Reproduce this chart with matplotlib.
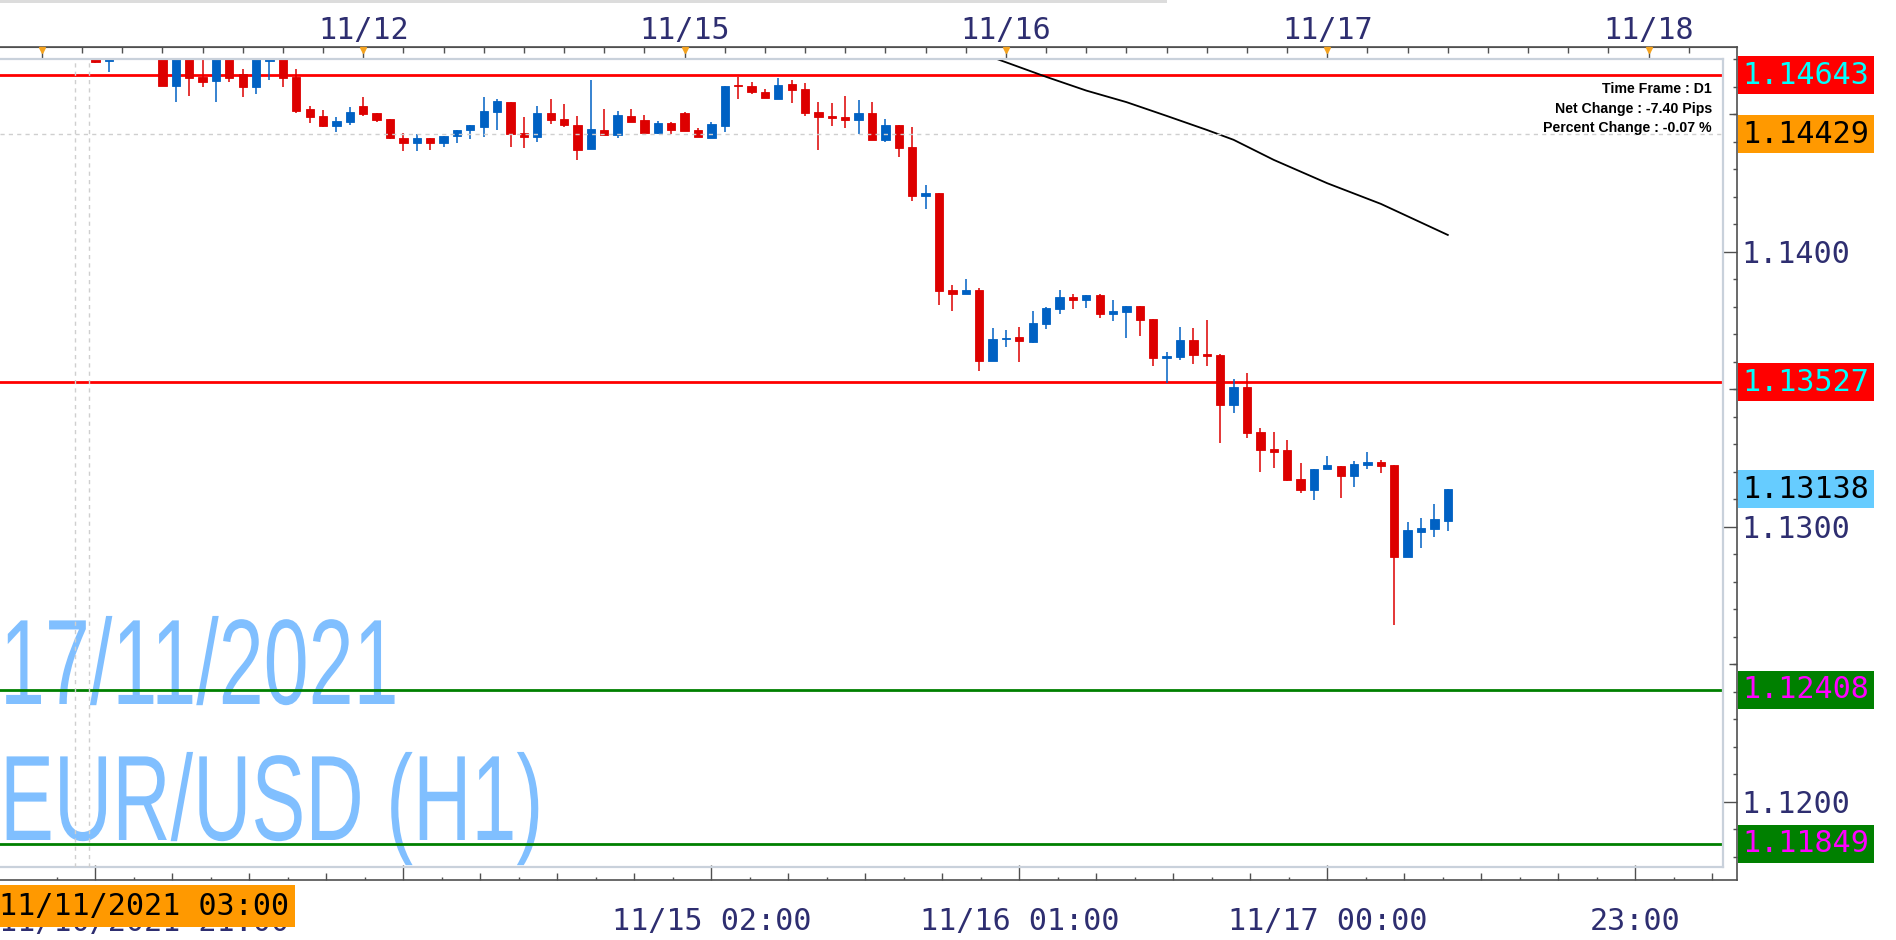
import numpy as np
import matplotlib
matplotlib.use("Agg")
import matplotlib.pyplot as plt
from matplotlib.patches import Rectangle
from matplotlib.patheffects import AbstractPathEffect
from matplotlib.transforms import Affine2D, blended_transform_factory

# ---- data: EUR/USD H1, bar 0 = 11/17 00:00 ----
first_bar = -92
opens = [1.14720, 1.14693, 1.14760, 1.14740, 1.14760, 1.14740, 1.14605, 1.14730, 1.14638, 1.14622,
         1.14730, 1.14646, 1.14601, 1.14695, 1.14730, 1.14638, 1.14520, 1.14494, 1.14459, 1.14474,
         1.14531, 1.14505, 1.14484, 1.14415, 1.14396, 1.14413, 1.14396, 1.14423, 1.14442, 1.14456,
         1.14510, 1.14545, 1.14433, 1.14419, 1.14505, 1.14484, 1.14462, 1.14375, 1.14444, 1.14427,
         1.14495, 1.14480, 1.14433, 1.14469, 1.14505, 1.14444, 1.14416, 1.14459, 1.14606, 1.14604,
         1.14582, 1.14556, 1.14611, 1.14593, 1.14509, 1.14493, 1.14491, 1.14480, 1.14505, 1.14408,
         1.14462, 1.14382, 1.14205, 1.14215, 1.13862, 1.13848, 1.13862, 1.13605, 1.13684, 1.13691,
         1.13673, 1.13739, 1.13794, 1.13836, 1.13827, 1.13844, 1.13776, 1.13783, 1.13803, 1.13756,
         1.13616, 1.13619, 1.13680, 1.13630, 1.13627, 1.13445, 1.13510, 1.13345, 1.13284, 1.13280,
         1.13175, 1.13133, 1.13211, 1.13222, 1.13184, 1.13227, 1.13236, 1.13225, 1.12892, 1.12983,
         1.12994, 1.13023]
highs = [1.14740, 1.14750, 1.14790, 1.14780, 1.14790, 1.14760, 1.14750, 1.14750, 1.14720, 1.14740,
         1.14750, 1.14665, 1.14750, 1.14740, 1.14750, 1.14665, 1.14531, 1.14516, 1.14491, 1.14527,
         1.14564, 1.14505, 1.14484, 1.14433, 1.14429, 1.14413, 1.14422, 1.14444, 1.14462, 1.14564,
         1.14556, 1.14545, 1.14490, 1.14531, 1.14556, 1.14538, 1.14495, 1.14625, 1.14520, 1.14513,
         1.14520, 1.14498, 1.14476, 1.14473, 1.14509, 1.14451, 1.14473, 1.14604, 1.14638, 1.14618,
         1.14593, 1.14633, 1.14625, 1.14615, 1.14545, 1.14542, 1.14567, 1.14553, 1.14545, 1.14484,
         1.14462, 1.14455, 1.14244, 1.14215, 1.13880, 1.13902, 1.13869, 1.13724, 1.13716, 1.13727,
         1.13785, 1.13800, 1.13862, 1.13847, 1.13844, 1.13847, 1.13825, 1.13803, 1.13803, 1.13756,
         1.13636, 1.13727, 1.13724, 1.13753, 1.13630, 1.13540, 1.13561, 1.13360, 1.13345, 1.13316,
         1.13233, 1.13211, 1.13258, 1.13222, 1.13240, 1.13273, 1.13244, 1.13225, 1.13018, 1.13032,
         1.13083, 1.13138]
lows = [1.14686, 1.14656, 1.14720, 1.14715, 1.14720, 1.14603, 1.14547, 1.14568, 1.14601, 1.14547,
        1.14619, 1.14565, 1.14575, 1.14625, 1.14600, 1.14505, 1.14469, 1.14456, 1.14438, 1.14463,
        1.14496, 1.14474, 1.14411, 1.14367, 1.14367, 1.14372, 1.14383, 1.14398, 1.14412, 1.14420,
        1.14442, 1.14383, 1.14379, 1.14401, 1.14467, 1.14456, 1.14336, 1.14375, 1.14423, 1.14416,
        1.14473, 1.14433, 1.14429, 1.14429, 1.14440, 1.14419, 1.14416, 1.14436, 1.14556, 1.14576,
        1.14561, 1.14556, 1.14543, 1.14495, 1.14372, 1.14459, 1.14451, 1.14429, 1.14408, 1.14401,
        1.14347, 1.14187, 1.14158, 1.13808, 1.13786, 1.13848, 1.13568, 1.13605, 1.13655, 1.13601,
        1.13670, 1.13721, 1.13776, 1.13794, 1.13796, 1.13761, 1.13750, 1.13689, 1.13696, 1.13587,
        1.13523, 1.13608, 1.13594, 1.13587, 1.13307, 1.13416, 1.13325, 1.13200, 1.13215, 1.13167,
        1.13125, 1.13097, 1.13211, 1.13107, 1.13147, 1.13212, 1.13198, 1.12645, 1.12892, 1.12925,
        1.12965, 1.12986]
closes = [1.14692, 1.14730, 1.14740, 1.14760, 1.14750, 1.14605, 1.14730, 1.14634, 1.14619, 1.14730,
          1.14634, 1.14601, 1.14730, 1.14720, 1.14634, 1.14514, 1.14492, 1.14459, 1.14476, 1.14509,
          1.14502, 1.14481, 1.14416, 1.14398, 1.14413, 1.14396, 1.14422, 1.14444, 1.14462, 1.14513,
          1.14549, 1.14430, 1.14419, 1.14505, 1.14480, 1.14463, 1.14372, 1.14447, 1.14427, 1.14498,
          1.14473, 1.14433, 1.14469, 1.14444, 1.14440, 1.14419, 1.14465, 1.14604, 1.14602, 1.14583,
          1.14561, 1.14607, 1.14590, 1.14505, 1.14491, 1.14489, 1.14480, 1.14505, 1.14408, 1.14462,
          1.14379, 1.14205, 1.14215, 1.13859, 1.13848, 1.13862, 1.13605, 1.13684, 1.13688, 1.13678,
          1.13742, 1.13796, 1.13836, 1.13827, 1.13844, 1.13776, 1.13785, 1.13803, 1.13754, 1.13616,
          1.13622, 1.13680, 1.13627, 1.13623, 1.13445, 1.13510, 1.13343, 1.13280, 1.13274, 1.13171,
          1.13133, 1.13211, 1.13225, 1.13184, 1.13229, 1.13236, 1.13223, 1.12892, 1.12989, 1.12996,
          1.13029, 1.13138]

# moving average line
ma_bars = [-26, -24, -21, -18, -15, -12, -9, -7, -4, 0, 4, 9]
ma_vals = [1.14725, 1.14690, 1.14637, 1.14587, 1.14545, 1.14495, 1.14444, 1.14408, 1.14335, 1.14250, 1.14175, 1.14062]

red_levels = [1.14643, 1.13527]
green_levels = [1.12408, 1.11849]
cross_price = 1.14429
cross_bar = -93

# price tags on the right axis
tag_prices = [1.14643, 1.14429, 1.13527, 1.13138, 1.12408, 1.11849]
tag_fg = ["#00ffff", "black", "#00ffff", "black", "#ff00ff", "#ff00ff"]
tag_bg = ["#ff0000", "#ff9900", "#ff0000", "#66ccff", "#008000", "#008000"]

y_major = [1.12, 1.13, 1.14]
y_major_labels = ["1.1200", "1.1300", "1.1400"]

day_bars = [-96, -72, -48, -24, 0, 24]
day_labels = ["", "11/12", "11/15", "11/16", "11/17", "11/18"]
time_bars = [-92, -69, -46, -23, 0, 23]
time_labels = ["", "", "11/15 02:00", "11/16 01:00", "11/17 00:00", "23:00"]

info_lines = ["Time Frame : D1", "Net Change : -7.40 Pips", "Percent Change : -0.07 %"]

# ---- layout (pixels of the 1896x940 picture) ----
W, H = 1896, 940
BAR0_PX, BAR_PX = 1327.3, 13.39
P0, P0_PX, PX_PER_UNIT = 1.14, 252.0, 27500.0
NAVY = "#2e2e70"
DARK = "#505050"
MONO = 21.7


def bar_at(x):
    return (x - BAR0_PX) / BAR_PX


def price_at(y):
    return P0 + (P0_PX - y) / PX_PER_UNIT


def rect(x0, y0, x1, y1):
    return [x0 / W, 1 - y1 / H, (x1 - x0) / W, (y1 - y0) / H]


class Squeeze(AbstractPathEffect):
    # narrow the glyphs horizontally, like the condensed chart watermark
    def __init__(self, sx, x0=0.0):
        super().__init__((0, 0))
        self.sx = sx
        self.x0 = x0

    def draw_path(self, renderer, gc, tpath, affine, rgbFace=None):
        sq = Affine2D().translate(-self.x0, 0).scale(self.sx, 1).translate(self.x0, 0)
        renderer.draw_path(gc, tpath, affine + sq, rgbFace)


plt.rcParams["font.family"] = ["DejaVu Sans Mono", "DejaVu Sans"]

fig = plt.figure(figsize=(W / 100, H / 100), dpi=100)
fig.add_artist(Rectangle((0, 1 - 3 / H), 1167 / W, 3 / H, transform=fig.transFigure,
                         color="#dcdcdc", lw=0))

# outer frame: the dark axes with ticks and labels
frame = fig.add_axes(rect(0, 46.7, 1737, 880))
frame.spines["left"].set_visible(False)
for s in ["top", "right", "bottom"]:
    frame.spines[s].set_color(DARK)
    frame.spines[s].set_linewidth(1.2)

frame.set_xticks(time_bars, labels=time_labels)
frame.set_xticks(np.arange(-92, 31, 23 / 4), minor=True)
frame.tick_params(axis="x", which="major", direction="in", length=10.8, width=1, color=DARK,
                  labelcolor=NAVY, labelsize=MONO, pad=19.5)
frame.tick_params(axis="x", which="minor", direction="in", length=5, width=1, color=DARK)

frame.yaxis.tick_right()
frame.set_yticks(y_major, labels=y_major_labels)
frame.set_yticks([round(1.117 + k * 0.001, 3) for k in range(1, 31)], minor=True)
frame.tick_params(axis="y", which="major", direction="in", length=10, width=1, color=DARK,
                  labelcolor=NAVY, labelsize=MONO, pad=3.3)
frame.tick_params(axis="y", which="minor", direction="in", length=3, width=1, color=DARK)

top = frame.secondary_xaxis("top")
top.set_xticks(day_bars, labels=day_labels)
top.set_xticks(np.arange(-96, 30, 3), minor=True)
top.tick_params(which="major", direction="in", length=8.4, width=1, color=DARK,
                labelcolor=NAVY, labelsize=MONO, pad=1)
top.tick_params(which="minor", direction="in", length=4, width=1, color=DARK)
top.spines["top"].set_color(DARK)

# limits last, so the tick lists cannot widen the view
frame.set_xlim(bar_at(0), bar_at(1737))
frame.set_ylim(price_at(880), price_at(46.7))

frame.vlines(np.arange(-92 - 23 / 8, 31, 23 / 4), 0, 3.5 / 833.3,
             transform=frame.get_xaxis_transform(), colors=DARK, lw=1)
frame.hlines([1.125, 1.135, 1.145], 1 - 8 / 1737, 1, transform=frame.get_yaxis_transform(),
             colors=DARK, lw=1)
frame.plot(day_bars, [1 - 3.3 / 833.3] * len(day_bars), ls="none", marker="v", ms=5,
           color="#f5a31f", transform=frame.get_xaxis_transform(), clip_on=False, zorder=5)

# inner chart panel
ax = fig.add_axes(rect(0, 59, 1723, 866.7))
ax.set_facecolor("none")
ax.set_xticks([])
ax.set_yticks([])
ax.spines["left"].set_visible(False)
for s in ["top", "right", "bottom"]:
    ax.spines[s].set_color("#c9d1db")
    ax.spines[s].set_linewidth(1.6)

# watermark
wm = dict(transform=ax.transAxes, family=["Liberation Sans", "DejaVu Sans"], fontsize=87.5,
          color="#80bfff", ha="left", va="baseline", zorder=0.5, clip_on=False,
          path_effects=[Squeeze(0.665, 0.0)])
ax.text(0, (866.7 - 704) / 807.7, "17/11/2021", **wm)
ax.text(0, (866.7 - 840) / 807.7, "EUR/USD (H1)", **wm)

# crosshair
dash = dict(color="#cfcfcf", lw=1, ls=(0, (3, 3)), zorder=3)
ax.axhline(cross_price, **dash)
ax.axvline(cross_bar - 0.5, **dash)
ax.axvline(cross_bar + 0.5, **dash)

for lv in red_levels:
    ax.axhline(lv, color="#ff0000", lw=2.0, zorder=1)
for lv in green_levels:
    ax.axhline(lv, color="#008000", lw=2.0, zorder=1)

# candles
bars = np.arange(first_bar, first_bar + len(opens))
o = np.array(opens)
c = np.array(closes)
up = c >= o
cols = np.where(up, "#0061c3", "#dd0000")
ax.vlines(bars, lows, highs, colors=cols, lw=1.1, zorder=2)
ax.bar(bars, np.abs(c - o), bottom=np.minimum(o, c), width=0.62, color=cols,
       edgecolor=cols, lw=0.6, zorder=2)

ax.plot(ma_bars, ma_vals, color="black", lw=1.3, zorder=2.5)

ax.set_xlim(bar_at(0), bar_at(1723))
ax.set_ylim(price_at(866.7), price_at(59))

# info box
for k, line in enumerate(info_lines):
    fig.text(1712 / W, 1 - (88.7 + 19.8 * k) / H, line, ha="right", va="center",
             family=["Liberation Sans", "DejaVu Sans"], fontsize=10.2, fontweight="bold",
             color="black")

# price tags
bt = blended_transform_factory(fig.transFigure, frame.transData)
for p, fg, bg in zip(tag_prices, tag_fg, tag_bg):
    frame.text(1742.5 / W, p, f"{p:.5f}", transform=bt, ha="left", va="center",
               fontsize=MONO, color=fg, clip_on=False, zorder=6,
               bbox=dict(boxstyle="square,pad=0.15", fc=bg, ec="none"))

# bottom-left time labels (first bar, crosshair bar)
fig.text(-1 / W, 1 - 907.5 / H, "11/10/2021 21:00", ha="left", va="top",
         fontsize=MONO, color=NAVY)
fig.text(-1 / W, 1 - 906 / H, "11/11/2021 03:00", ha="left", va="center",
         fontsize=MONO, color="black",
         bbox=dict(boxstyle="square,pad=0.2", fc="#ff9900", ec="none"))

fig.savefig("out.png", dpi=100)
